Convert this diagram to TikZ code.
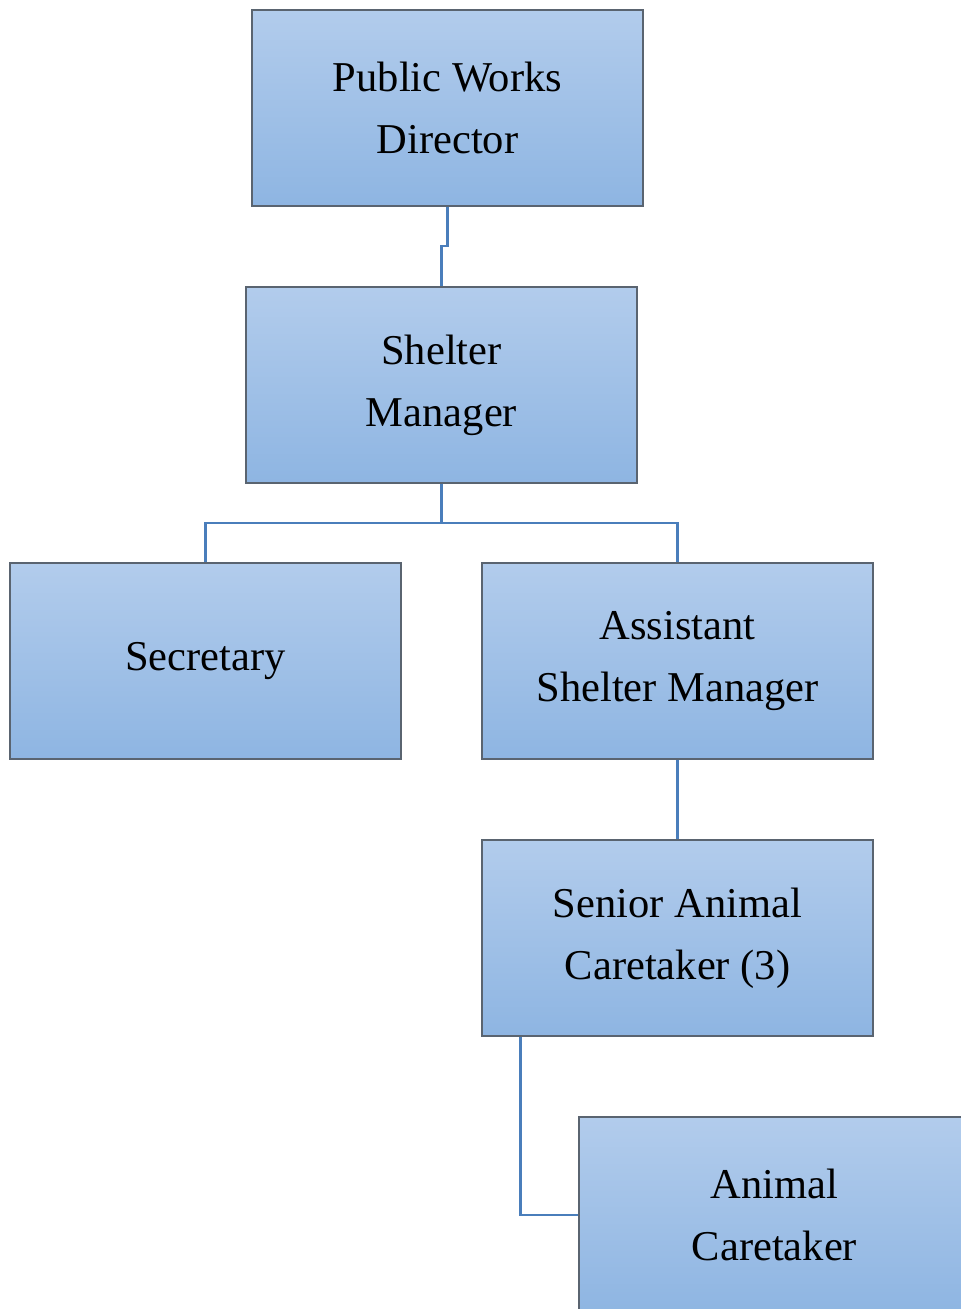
\documentclass[tikz,border=0pt]{standalone}
\usepackage{fontspec}
\setmainfont{Liberation Serif}
\begin{document}
\begin{tikzpicture}[x=1pt,y=-1pt,
  orgbox/.style={draw=boxline, line width=1.2pt, top color=boxtop, bottom color=boxbot,
    minimum width=391pt, minimum height=196pt, inner sep=0pt, align=center,
    font=\fontsize{42.5}{62}\selectfont},
  link/.style={draw=linkblue, line width=2.2pt}]
\definecolor{boxtop}{HTML}{B2CCEC}
\definecolor{boxbot}{HTML}{8EB5E2}
\definecolor{boxline}{HTML}{5A6470}
\definecolor{linkblue}{HTML}{4A7EBB}
\useasboundingbox (0,0) rectangle (961,1309);
\clip (0,0) rectangle (961,1309);
\node[orgbox] (pwd) at (447.5,108) {Public Works\\Director};
\node[orgbox] (sm) at (441.5,385) {Shelter\\Manager};
\node[orgbox] (sec) at (205.5,661) {Secretary};
\node[orgbox] (asm) at (677.5,661) {Assistant\\Shelter Manager};
\node[orgbox] (sac) at (677.5,938) {Senior Animal\\Caretaker (3)};
\node[orgbox] (ac) at (774.5,1215) {Animal\\Caretaker};
\draw[link] (pwd.south) -- ++(0,39) -| (sm.north);
\draw[link] (sm.south) -- ++(0,39) -| (sec.north);
\draw[link] (sm.south) -- ++(0,39) -| (asm.north);
\draw[link] (asm.south) -- (sac.north);
\draw[link] ([xshift=39pt]sac.south west) |- (ac.west);
\end{tikzpicture}
\end{document}
